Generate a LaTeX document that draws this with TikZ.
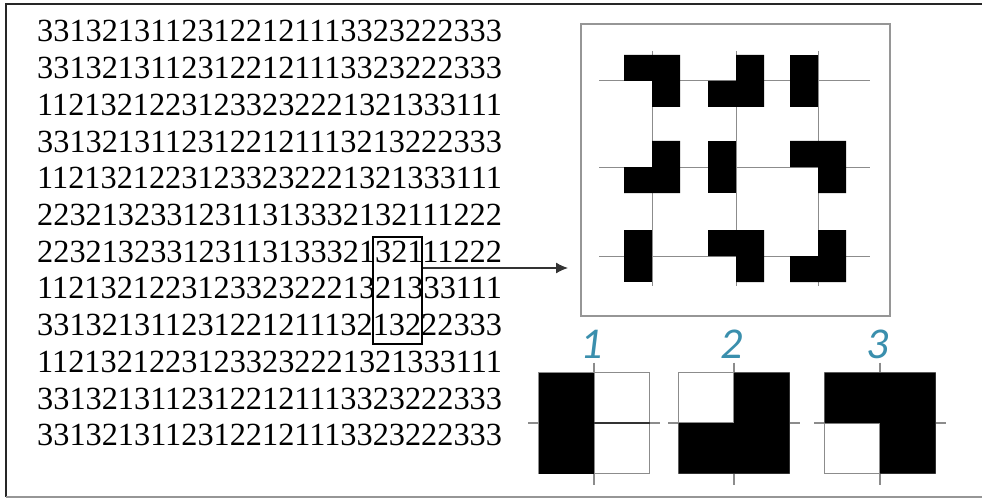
\documentclass[tikz,border=0pt]{standalone}
\usepackage{fontspec}
\setmainfont{Liberation Serif}
\newfontfamily\lblfont{Carlito}
\usetikzlibrary{arrows.meta}
\definecolor{lblblue}{RGB}{58,143,173}
\definecolor{gridgray}{RGB}{140,140,140}
\definecolor{boxgray}{RGB}{150,150,150}
\newcommand\tilefill[5]{%
 \ifcase#5\or
  \fill ({#1-#3},{#2-#4}) rectangle (#1,{#2+#4});
 \or
  \fill (#1,{#2-#4}) -- ({#1+#3},{#2-#4}) -- ({#1+#3},{#2+#4}) -- ({#1-#3},{#2+#4}) -- ({#1-#3},#2) -- (#1,#2) -- cycle;
 \or
  \fill ({#1-#3},{#2-#4}) -- ({#1+#3},{#2-#4}) -- ({#1+#3},{#2+#4}) -- (#1,{#2+#4}) -- (#1,#2) -- ({#1-#3},#2) -- cycle;
 \fi}
\newcommand\legendtile[4]{% x y type name
 \draw[gridgray, line width=1pt] ({#1-55.5},{#2-50.5}) rectangle ({#1+55.5},{#2+50.5});
 \draw[gridgray, line width=1.2pt] ({#1-66},#2) -- ({#1+66},#2);
 \draw[gridgray, line width=1.2pt] (#1,{#2-60.5}) -- (#1,{#2+62});
 \tilefill{#1}{#2}{55.5}{50.5}{#3}}
\begin{document}
\begin{tikzpicture}[x=1pt,y=-1pt,
  digits/.style={anchor=base west, inner sep=0pt, font=\fontsize{32.3}{36}\selectfont},
  lbl/.style={anchor=base, inner sep=0pt, text=lblblue, font=\lblfont\itshape\fontsize{44}{44}\selectfont},
  gridln/.style={gridgray, line width=1pt}]
\useasboundingbox (0,0) rectangle (982,500);
\fill[white] (0,0) rectangle (982,500);
% outer frame
\draw[black!85, line width=2pt] (982,4) -- (6,4) -- (6,497);
\draw[boxgray, line width=1.5pt] (6,497) -- (982,497);
% digit rows
\node[digits] (l1) at (37,42.0) {33132131123122121113323222333};
\node[digits] (l2) at (37,78.7) {33132131123122121113323222333};
\node[digits] (l3) at (37,115.4) {11213212231233232221321333111};
\node[digits] (l4) at (37,152.1) {33132131123122121113213222333};
\node[digits] (l5) at (37,188.8) {11213212231233232221321333111};
\node[digits] (l6) at (37,225.5) {22321323312311313332132111222};
\node[digits] (l7) at (37,262.2) {22321323312311313332132111222};
\node[digits] (l8) at (37,298.9) {11213212231233232221321333111};
\node[digits] (l9) at (37,335.6) {33132131123122121113213222333};
\node[digits] (l10) at (37,372.3) {11213212231233232221321333111};
\node[digits] (l11) at (37,409.0) {33132131123122121113323222333};
\node[digits] (l12) at (37,445.7) {33132131123122121113323222333};
% highlight box
\node[draw, line width=2.2pt, minimum width=49pt, minimum height=107pt, inner sep=0pt] (hl) at (397.5,290.5) {};
% panel
\node[draw=boxgray, line width=1.3pt, minimum width=309pt, minimum height=292pt, inner sep=0pt] (panel) at (735.5,170) {};
\coordinate (arrEnd) at (568,268);
\draw[black!80, line width=1.3pt, -{Latex[length=12pt,width=11pt]}] (hl.east |- arrEnd) -- (arrEnd);
% grid
\foreach \yy in {81,167,256} \draw[gridln] (599,\yy) -- (870,\yy);
\foreach \xx in {652,736,818} \draw[gridln] (\xx,51) -- (\xx,286);
% panel tiles
\tilefill{652}{81}{28}{26}{3}
\tilefill{736}{81}{28}{26}{2}
\tilefill{818}{81}{28}{26}{1}
\tilefill{652}{167}{28}{26}{2}
\tilefill{736}{167}{28}{26}{1}
\tilefill{818}{167}{28}{26}{3}
\tilefill{652}{256}{28}{26}{1}
\tilefill{736}{256}{28}{26}{3}
\tilefill{818}{256}{28}{26}{2}
% legend
\legendtile{594}{423}{1}{t1}
\draw[black!80, line width=1.5pt] (594,423) -- (649.5,423);
\legendtile{734}{423}{2}{t2}
\legendtile{880}{423}{3}{t3}
\node[lbl] (n1) at (592,358) {1};
\node[lbl] (n2) at (732,358) {2};
\node[lbl] (n3) at (878,358) {3};
\end{tikzpicture}
\end{document}
